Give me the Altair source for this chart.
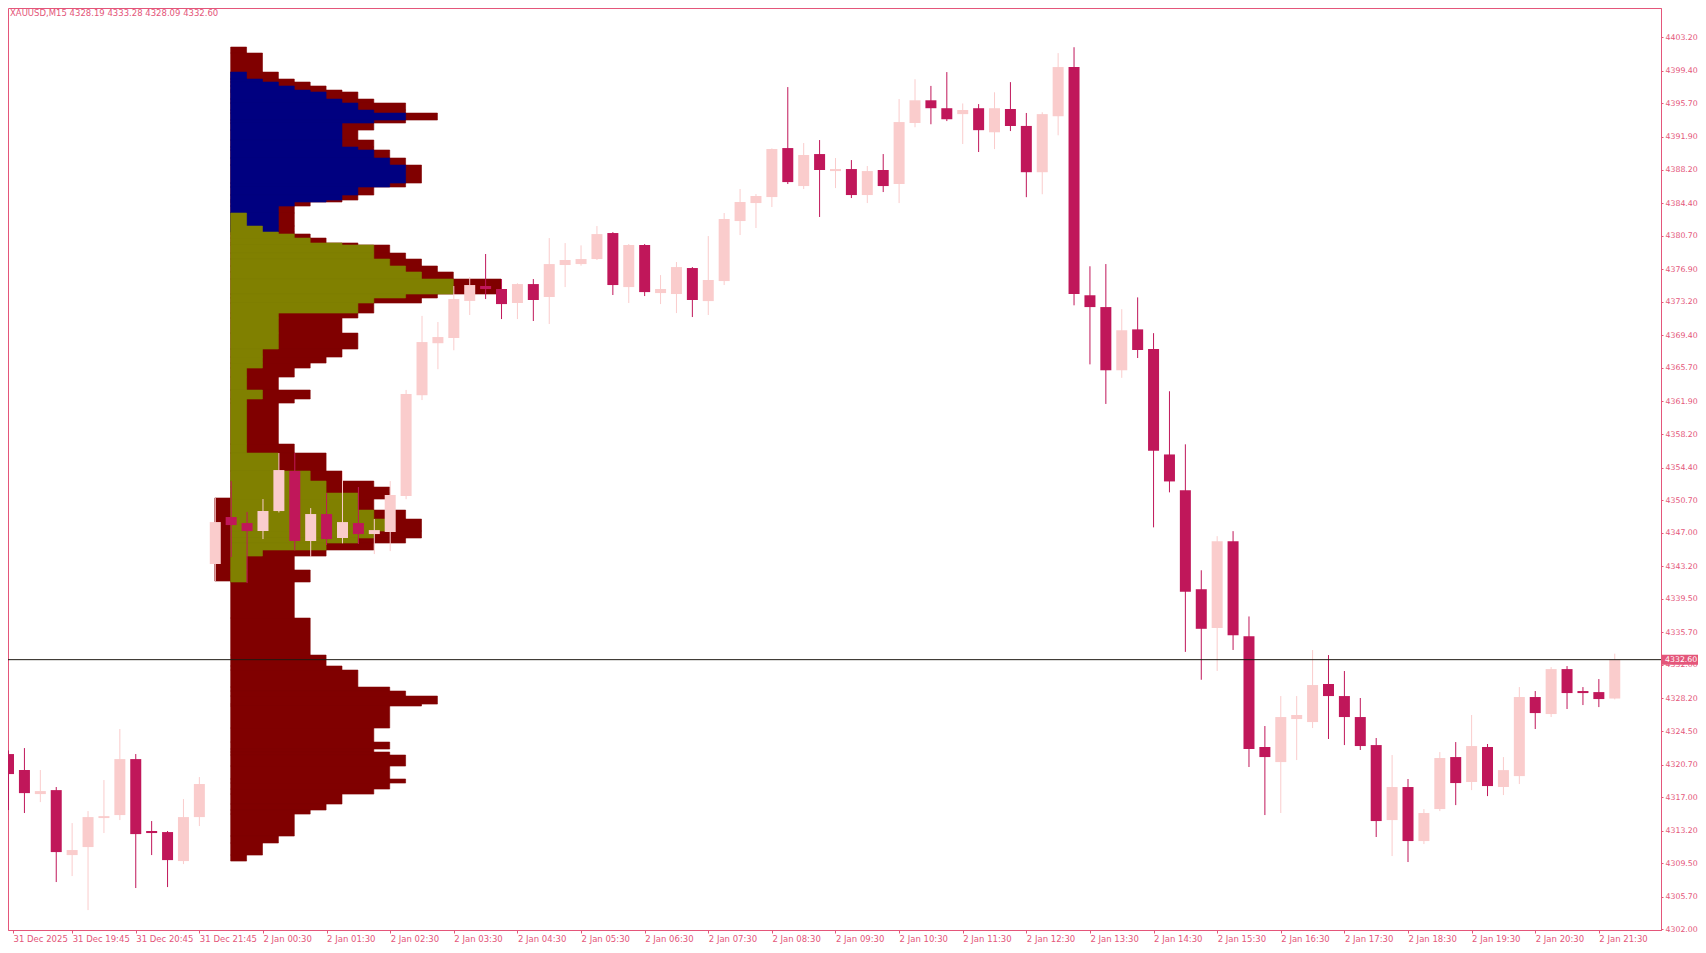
import json
import altair as alt
import pandas as pd

# ---------------- data ----------------
symbol = "XAUUSD,M15"

opens = [4321.89, 4320.08, 4317.35, 4317.80, 4310.43, 4311.34, 4314.63, 4314.97, 4321.32, 4313.16,
         4313.04, 4309.75, 4314.74, 4343.45, 4348.78, 4348.10, 4347.19, 4349.46, 4354.00, 4346.06,
         4349.12, 4346.40, 4348.10, 4346.85, 4347.08, 4351.17, 4362.60, 4368.50, 4369.09, 4373.30,
         4374.99, 4374.65, 4373.06, 4375.21, 4373.74, 4377.37, 4377.48, 4378.05, 4381.00, 4374.87,
         4379.64, 4374.19, 4374.08, 4377.03, 4373.28, 4375.55, 4382.36, 4384.40, 4385.08, 4390.64,
         4386.33, 4389.96, 4388.03, 4388.26, 4385.31, 4388.15, 4386.56, 4393.48, 4396.06, 4395.16,
         4394.49, 4395.16, 4392.43, 4395.07, 4393.15, 4387.90, 4394.25, 4399.83, 4373.94, 4372.60,
         4365.43, 4370.07, 4367.83, 4355.88, 4351.82, 4340.59, 4336.20, 4346.03, 4335.25, 4322.69,
         4320.98, 4325.86, 4325.52, 4329.84, 4328.47, 4326.09, 4322.91, 4314.40, 4318.15, 4312.02,
         4315.65, 4321.55, 4318.72, 4322.69, 4318.15, 4319.39, 4328.36, 4326.43, 4331.53, 4329.04,
         4328.92, 4328.19]
highs = [4322.30, 4322.57, 4320.08, 4318.15, 4314.06, 4315.42, 4318.94, 4324.73, 4321.89, 4314.29,
         4313.16, 4316.78, 4319.28, 4350.94, 4352.86, 4349.35, 4350.82, 4356.04, 4356.04, 4349.80,
         4351.50, 4354.00, 4352.18, 4348.55, 4352.86, 4363.20, 4371.60, 4370.90, 4374.99, 4376.00,
         4378.62, 4375.78, 4375.30, 4375.78, 4380.43, 4379.86, 4379.60, 4381.79, 4381.10, 4379.75,
         4379.75, 4376.23, 4377.71, 4377.14, 4380.66, 4383.27, 4385.99, 4385.42, 4390.60, 4397.56,
         4391.21, 4391.55, 4389.51, 4389.28, 4388.60, 4389.96, 4396.20, 4398.45, 4397.69, 4399.26,
         4395.70, 4395.63, 4396.97, 4398.12, 4394.62, 4394.70, 4401.41, 4402.08, 4377.23, 4377.48,
         4372.36, 4373.70, 4369.64, 4363.05, 4357.03, 4342.74, 4346.61, 4347.18, 4337.50, 4325.07,
         4328.47, 4328.47, 4333.69, 4333.12, 4331.31, 4328.25, 4323.71, 4321.78, 4319.06, 4315.65,
         4322.12, 4323.25, 4326.32, 4323.03, 4321.55, 4329.49, 4329.04, 4331.76, 4331.87, 4329.49,
         4330.40, 4333.28]
lows = [4315.54, 4315.20, 4316.44, 4307.37, 4308.05, 4304.19, 4312.93, 4314.40, 4306.69, 4310.43,
        4306.80, 4309.41, 4313.72, 4341.52, 4344.24, 4341.29, 4346.28, 4349.30, 4345.00, 4344.24,
        4345.60, 4345.80, 4345.72, 4344.58, 4344.92, 4350.80, 4362.05, 4365.55, 4367.70, 4371.70,
        4373.51, 4371.24, 4371.24, 4371.02, 4370.68, 4374.87, 4377.30, 4377.94, 4373.97, 4373.06,
        4373.85, 4372.94, 4371.92, 4371.47, 4371.70, 4375.10, 4380.77, 4381.57, 4383.95, 4386.56,
        4385.99, 4382.82, 4386.10, 4384.97, 4384.40, 4385.65, 4384.40, 4393.00, 4393.34, 4393.70,
        4391.10, 4390.19, 4390.52, 4392.57, 4385.07, 4385.40, 4392.09, 4372.80, 4366.10, 4361.61,
        4364.57, 4366.82, 4347.61, 4351.58, 4333.48, 4330.32, 4331.32, 4333.70, 4320.42, 4314.97,
        4315.20, 4321.21, 4324.84, 4323.60, 4322.91, 4322.35, 4312.48, 4310.32, 4309.64, 4311.68,
        4315.42, 4316.10, 4317.80, 4317.12, 4317.24, 4318.49, 4324.73, 4326.09, 4327.00, 4327.45,
        4327.22, 4328.09]
closes = [4319.62, 4317.46, 4317.69, 4310.77, 4311.00, 4314.74, 4314.85, 4321.32, 4312.81, 4312.93,
          4309.86, 4314.74, 4318.49, 4348.21, 4347.87, 4347.19, 4349.46, 4354.11, 4346.06, 4349.12,
          4346.28, 4348.21, 4346.85, 4347.30, 4351.28, 4362.73, 4368.63, 4369.20, 4373.51, 4375.10,
          4374.65, 4372.94, 4375.21, 4373.40, 4377.48, 4377.94, 4378.05, 4380.88, 4375.10, 4379.64,
          4374.30, 4374.65, 4377.14, 4373.40, 4375.67, 4382.59, 4384.52, 4385.20, 4390.53, 4386.78,
          4389.85, 4388.15, 4388.26, 4385.31, 4388.03, 4386.33, 4393.59, 4396.06, 4395.16, 4393.91,
          4394.96, 4392.67, 4395.16, 4393.14, 4387.90, 4394.49, 4399.83, 4374.08, 4372.60, 4365.43,
          4369.97, 4367.73, 4356.31, 4352.82, 4340.30, 4336.10, 4346.03, 4335.38, 4322.46, 4321.55,
          4326.09, 4326.32, 4329.72, 4328.47, 4326.09, 4322.80, 4314.29, 4318.15, 4312.02, 4315.20,
          4321.44, 4318.60, 4322.80, 4318.26, 4320.07, 4328.36, 4326.54, 4331.53, 4328.81, 4328.81,
          4328.13, 4332.60]

time_labels = ["31 Dec 2025", "31 Dec 19:45", "31 Dec 20:45", "31 Dec 21:45",
               "2 Jan 00:30", "2 Jan 01:30", "2 Jan 02:30", "2 Jan 03:30", "2 Jan 04:30",
               "2 Jan 05:30", "2 Jan 06:30", "2 Jan 07:30", "2 Jan 08:30", "2 Jan 09:30",
               "2 Jan 10:30", "2 Jan 11:30", "2 Jan 12:30", "2 Jan 13:30", "2 Jan 14:30",
               "2 Jan 15:30", "2 Jan 16:30", "2 Jan 17:30", "2 Jan 18:30", "2 Jan 19:30",
               "2 Jan 20:30", "2 Jan 21:30"]
bars_per_label = 4

price_ticks = [4403.2, 4399.4, 4395.7, 4391.9, 4388.2, 4384.4, 4380.7, 4376.9, 4373.2,
               4369.4, 4365.7, 4361.9, 4358.2, 4354.4, 4350.7, 4347.0, 4343.2, 4339.5,
               4335.7, 4332.0, 4328.2, 4324.5, 4320.7, 4317.0, 4313.2, 4309.5, 4305.7, 4302.0]

# volume profile of the session (anchored at bar 14), price bins top -> bottom
prof_start = 14
prof_edges = [4402.10, 4401.42, 4399.26, 4398.47, 4398.13, 4397.68, 4397.22, 4397.00, 4396.20, 4395.75,
              4394.95, 4394.61, 4393.82, 4393.48, 4392.68, 4391.55, 4390.76, 4390.42, 4389.51, 4388.71,
              4386.67, 4386.22, 4385.31, 4384.74, 4384.52, 4384.06, 4383.27, 4381.79, 4381.11, 4380.89,
              4380.43, 4379.87, 4379.64, 4378.73, 4378.05, 4377.26, 4376.58, 4375.78, 4374.08, 4373.63,
              4373.06, 4371.92, 4371.36, 4369.65, 4367.84, 4366.93, 4366.25, 4365.68, 4364.66, 4363.19,
              4362.17, 4361.71, 4357.06, 4356.04, 4354.00, 4352.86, 4352.18, 4351.50, 4350.82, 4349.57,
              4348.55, 4347.19, 4346.40, 4345.83, 4345.04, 4344.35, 4342.77, 4341.41, 4337.32, 4333.12,
              4331.88, 4331.42, 4329.49, 4329.04, 4328.47, 4327.56, 4327.34, 4324.84, 4323.25, 4322.46,
              4322.12, 4321.78, 4320.53, 4319.06, 4318.60, 4317.92, 4317.35, 4316.22, 4315.54, 4315.08,
              4312.59, 4311.80, 4310.43, 4309.75]
prof_total = [1, 2, 3, 4, 5, 6, 7, 8, 9, 11,
              11, 13, 11, 9, 8, 9, 9, 10, 11, 12,
              11, 9, 8, 7, 5, 4, 4, 4, 4, 5,
              6, 8, 10, 11, 12, 13, 14, 17, 13, 12,
              9, 8, 7, 8, 7, 6, 5, 4, 3, 5,
              4, 3, 4, 6, 7, 9, 10, 10, 9, 11,
              12, 12, 11, 9, 6, 4, 5, 4, 5, 6,
              7, 8, 10, 11, 13, 12, 10, 9, 10, 9,
              10, 11, 10, 11, 10, 9, 7, 6, 5, 4,
              3, 2, 1]
prof_navy = [0, 0, 1, 2, 3, 4, 5, 6, 7, 8,
             9, 11, 9, 7, 7, 7, 8, 9, 10, 11,
             10, 8, 7, 6, 4, 3, 3, 3, 0, 0,
             0, 0, 0, 0, 0, 0, 0, 0, 0, 0,
             0, 0, 0, 0, 0, 0, 0, 0, 0, 0,
             0, 0, 0, 0, 0, 0, 0, 0, 0, 0,
             0, 0, 0, 0, 0, 0, 0, 0, 0, 0,
             0, 0, 0, 0, 0, 0, 0, 0, 0, 0,
             0, 0, 0, 0, 0, 0, 0, 0, 0, 0,
             0, 0, 0]
prof_olive = [0, 0, 0, 0, 0, 0, 0, 0, 0, 0,
              0, 0, 0, 0, 0, 0, 0, 0, 0, 0,
              0, 0, 0, 0, 0, 0, 1, 2, 3, 4,
              5, 7, 9, 9, 10, 11, 12, 14, 11, 9,
              8, 3, 3, 3, 2, 2, 2, 1, 1, 2,
              1, 1, 1, 3, 5, 6, 6, 8, 8, 9,
              10, 9, 8, 6, 2, 1, 1, 0, 0, 0,
              0, 0, 0, 0, 0, 0, 0, 0, 0, 0,
              0, 0, 0, 0, 0, 0, 0, 0, 0, 0,
              0, 0, 0]

# small profile of the previous bar (anchored at bar 13)
pre_start = 13
pre_edges = [4350.94, 4341.52]
pre_total = [1]

# ---------------- styling ----------------
PINK = "#E4567A"
BULL = "#FACCCC"
BEAR = "#C0175A"
DARKRED = "#800000"
NAVY = "#000080"
OLIVE = "#808000"
BID = "#1E1912"
FONT = "DejaVu Sans"

W, H = 1653, 922
X_DOMAIN = [0.28125, 103.59375]
Y_DOMAIN = [4301.93, 4406.53]

# ---------------- frames ----------------
candles = pd.DataFrame({"k": list(range(len(opens))), "open": opens, "high": highs,
                        "low": lows, "close": closes})
candles["dir"] = ["up" if c >= o else "down" for o, c in zip(opens, closes)]
candles["btop"] = candles[["open", "close"]].max(axis=1)
candles["bbot"] = candles[["open", "close"]].min(axis=1)


def profile_frame(start, edges, widths):
    rows = []
    for i, w in enumerate(widths):
        if w > 0:
            rows.append({"top": edges[i], "bot": edges[i + 1], "x0": start, "x1": start + w})
    return pd.DataFrame(rows)


df_outer = profile_frame(prof_start, prof_edges, prof_total)
df_navy = profile_frame(prof_start, prof_edges, prof_navy)
df_olive = profile_frame(prof_start, prof_edges, prof_olive)
df_pre = profile_frame(pre_start, pre_edges, pre_total)
df_bid = pd.DataFrame({"p": [closes[-1]]})
df_title = pd.DataFrame({"t": [f"{symbol}  {opens[-1]:.2f} {highs[-1]:.2f} {lows[-1]:.2f} {closes[-1]:.2f}"]})

x_ticks = [X_DOMAIN[0]] + [i * bars_per_label for i in range(1, len(time_labels))]
label_expr = f"{json.dumps(time_labels)}[round(datum.value / {bars_per_label})]"

x_scale = alt.Scale(domain=X_DOMAIN, nice=False, zero=False)
y_scale = alt.Scale(domain=Y_DOMAIN, nice=False, zero=False)
x_axis = alt.Axis(values=x_ticks, labelExpr=label_expr, labelAlign="left", tickSize=3,
                  labelPadding=1, labelOverlap=False, grid=False, title="", labelFontSize=8.5)
y_axis = alt.Axis(orient="right", values=price_ticks, format=".2f", tickSize=2,
                  labelPadding=2, labelOverlap=False, grid=False, title="", labelFontSize=7.8)


def xq(field):
    return alt.X(field, type="quantitative", scale=x_scale, axis=x_axis, title="")


def yq(field):
    return alt.Y(field, type="quantitative", scale=y_scale, axis=y_axis, title="")


def prof_layer(df, color):
    return alt.Chart(df).mark_rect(color=color, stroke=color, strokeWidth=0.6,
                                   xOffset=-0.5, x2Offset=-0.5).encode(
        x=xq("x0"), x2="x1", y=yq("top"), y2="bot")


dir_color = alt.Color("dir:N", scale=alt.Scale(domain=["up", "down"], range=[BULL, BEAR]), legend=None)

outer = prof_layer(df_outer, DARKRED)
pre = prof_layer(df_pre, DARKRED)
navy = prof_layer(df_navy, NAVY)
olive = prof_layer(df_olive, OLIVE)

wicks = alt.Chart(candles).mark_rule(strokeWidth=1).encode(
    x=xq("k"), y=yq("low"), y2="high", color=dir_color)
bodies = alt.Chart(candles).mark_bar(size=11).encode(
    x=xq("k"), y=yq("btop"), y2="bbot", color=dir_color)

bid_line = alt.Chart(df_bid).mark_rule(color=BID, strokeWidth=1).encode(y=yq("p"))
bid_box = alt.Chart(df_bid).mark_rect(color=PINK, yOffset=-5, y2Offset=5, clip=False).encode(
    x=alt.value(W + 1), x2=alt.value(W + 37), y=yq("p"), y2="p")
bid_text = alt.Chart(df_bid).mark_text(align="left", baseline="middle", color="white",
                                       font=FONT, fontSize=7.8).encode(
    x=alt.value(W + 4), y=yq("p"), text=alt.Text("p:Q", format=".2f"))
title_text = alt.Chart(df_title).mark_text(align="left", baseline="top", color=PINK,
                                           font=FONT, fontSize=8.5).encode(
    x=alt.value(2), y=alt.value(1), text="t:N")

chart = alt.layer(outer, pre, navy, olive, wicks, bodies, bid_line, bid_box, bid_text, title_text).properties(
    width=W, height=H,
    autosize=alt.AutoSizeParams(type="none"),
    padding={"left": 0, "top": 0, "right": 37, "bottom": 14},
    background="white",
).configure_view(
    stroke=PINK, strokeWidth=1
).configure_axis(
    labelColor=PINK, labelFont=FONT, tickColor=PINK, domainColor=PINK,
    domainWidth=1, tickWidth=1
)

chart.save("out.html", embed_options={"renderer": "svg", "actions": False})
